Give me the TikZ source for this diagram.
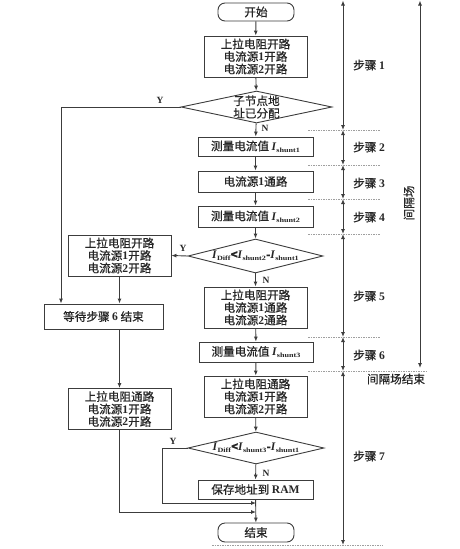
\documentclass[tikz,border=0pt]{standalone}
\usepackage{fontspec}
\setmainfont{Liberation Serif}
\newfontfamily\cjk[FakeBold=0.6]{Noto Sans CJK SC}
\usetikzlibrary{arrows.meta,shapes.geometric}
\definecolor{lc}{HTML}{3C3C3C}
\definecolor{tc}{HTML}{262626}
\newcommand\dg[1]{{\rmfamily\bfseries #1}}
\newcommand\Isub[1]{{\rmfamily\textbf{\textit{I}}\raisebox{-2pt}{\scalebox{1.25}[1]{\fontsize{6.5}{6.5}\selectfont\bfseries #1}}}}
\tikzset{
  box/.style={draw=lc, line width=0.9pt, fill=white, inner sep=0pt, align=center,
    font=\cjk\fontsize{11.6}{12.5}\selectfont, text=tc},
  dia/.style={diamond, draw=lc, line width=0.9pt, inner sep=0pt},
  txt/.style={align=center, inner sep=0pt, font=\cjk\fontsize{11.6}{12.5}\selectfont, text=tc},
  yn/.style={inner sep=0pt, font=\rmfamily\bfseries\fontsize{9.5}{9.5}\selectfont, text=tc},
  stlbl/.style={inner sep=0pt, font=\cjk\fontsize{11.6}{12}\selectfont, text=tc},
  arr/.style={draw=lc, line width=0.9pt, -{Latex[length=5pt,width=4pt]}},
  darr/.style={draw=lc, line width=0.9pt, {Latex[length=5pt,width=4pt]}-{Latex[length=5pt,width=4pt]}},
  dotline/.style={draw=gray!75, line width=0.5pt, dash pattern=on 1.5pt off 1pt}
}
\begin{document}
\begin{tikzpicture}[x=1pt,y=-1pt]
\useasboundingbox (0,0) rectangle (460,549);
% main column
\node[box, minimum width=76pt, minimum height=18pt, rounded corners=7pt] (start) at (256,12) {开始};
\node[box, minimum width=103pt, minimum height=41pt] (b1) at (255.5,56.5) {上拉电阻开路\\电流源\dg{1}开路\\电流源\dg{2}开路};
\node[dia, minimum width=151pt, minimum height=32pt] (d1) at (256.5,107) {};
\node[txt] (d1t) at (d1) {子节点地\\址已分配};
\node[box, minimum width=115pt, minimum height=19pt] (m1) at (255.5,146.5) {测量电流值 \Isub{shunt1}};
\node[box, minimum width=115pt, minimum height=21pt] (c1) at (255.5,181.5) {电流源\dg{1}通路};
\node[box, minimum width=115pt, minimum height=21pt] (m2) at (255.5,216.5) {测量电流值 \Isub{shunt2}};
\node[dia, minimum width=135pt, minimum height=34pt] (d2) at (255.5,256) {};
\node[txt] (d2t) at (d2) {\Isub{Diff}\textbf{<}\Isub{shunt2}\textbf{-}\Isub{shunt1}};
\node[box, minimum width=103pt, minimum height=41pt] (b5) at (255.5,307.5) {上拉电阻开路\\电流源\dg{1}通路\\电流源\dg{2}通路};
\node[box, minimum width=114pt, minimum height=20pt] (m3) at (256,352) {测量电流值 \Isub{shunt3}};
\node[box, minimum width=103pt, minimum height=41pt] (b7) at (255.5,396.5) {上拉电阻通路\\电流源\dg{1}开路\\电流源\dg{2}开路};
\node[dia, minimum width=136pt, minimum height=32pt] (d3) at (256,448) {};
\node[txt] (d3t) at (d3) {\Isub{Diff}\textbf{<}\Isub{shunt3}\textbf{-}\Isub{shunt1}};
\node[box, minimum width=115pt, minimum height=19pt] (ram) at (255.5,489.5) {保存地址到 \dg{RAM}};
\node[box, minimum width=76pt, minimum height=19pt, rounded corners=7pt] (end) at (256,532.5) {结束};
% left column
\node[box, minimum width=103pt, minimum height=41pt] (L1) at (119.5,255.5) {上拉电阻开路\\电流源\dg{1}开路\\电流源\dg{2}开路};
\node[box, minimum width=119pt, minimum height=25pt] (W) at (103.5,316.5) {等待步骤 \dg{6} 结束};
\node[box, minimum width=103pt, minimum height=41pt] (L3) at (119.5,409) {上拉电阻通路\\电流源\dg{1}开路\\电流源\dg{2}开路};
% connectors
\coordinate (y1) at (61,107);
\coordinate (y3) at (162,448);
\coordinate (j1) at (256,503);
\coordinate (j2) at (256,512);
\draw[arr] (start) -- (b1);
\draw[arr] (b1) -- (d1);
\draw[arr] (d1) -- (m1);
\draw[arr] (m1) -- (c1);
\draw[arr] (c1) -- (m2);
\draw[arr] (m2) -- (d2);
\draw[arr] (d2) -- (b5);
\draw[arr] (b5) -- (m3);
\draw[arr] (m3) -- (b7);
\draw[arr] (b7) -- (d3);
\draw[arr] (d3) -- (ram);
\draw[arr] (ram) -- (end);
\draw[arr] (d1.west) -- (y1) -- (y1 |- W.north);
\draw[arr] (d2.west) -- (L1.east);
\draw[arr] (L1.south) -- (L1.south |- W.north);
\draw[arr] (L3.north |- W.south) -- (L3.north);
\draw[arr] (d3.west) -- (y3) |- (j1);
\draw[arr] (L3.south) |- (j2);
% Y / N labels
\node[yn] (ly1) at (160,100) {Y};
\node[yn] (ln1) at (265,128.5) {N};
\node[yn] (ly2) at (183,248) {Y};
\node[yn] (ln2) at (266,280) {N};
\node[yn] (ly3) at (173,441) {Y};
\node[yn] (ln3) at (266,473) {N};
% step ruler
\coordinate (s0) at (343,0.5);
\coordinate (s1) at (343,130);
\coordinate (s2) at (343,165);
\coordinate (s3) at (343,199);
\coordinate (s4) at (343,234);
\coordinate (s5) at (343,337);
\coordinate (s6) at (343,371);
\coordinate (s7) at (343,545);
\draw[darr] (s0) -- (s1);
\draw[darr] (s1) -- (s2);
\draw[darr] (s2) -- (s3);
\draw[darr] (s3) -- (s4);
\draw[darr] (s4) -- (s5);
\draw[darr] (s5) -- (s6);
\draw[darr] (s6) -- (s7);
\coordinate (g0) at (420,0.5);
\coordinate (g1) at (420,368);
\draw[darr] (g0) -- (g1);
\foreach \yy in {130,165,199,234,337} \draw[dotline] (308,\yy) -- (380,\yy);
\draw[dotline] (308,371) -- (427,371);
\draw[dotline] (212,545) -- (383,545);
\node[stlbl] (st1) at (369,65) {步骤 \dg{1}};
\node[stlbl] (st2) at (369,147) {步骤 \dg{2}};
\node[stlbl] (st3) at (369,183) {步骤 \dg{3}};
\node[stlbl] (st4) at (369,217) {步骤 \dg{4}};
\node[stlbl] (st5) at (369,296) {步骤 \dg{5}};
\node[stlbl] (st6) at (369,355) {步骤 \dg{6}};
\node[stlbl] (st7) at (369,456) {步骤 \dg{7}};
\node[stlbl, rotate=90] (gap) at (409,203) {间隔场};
\node[stlbl] (gapend) at (396,379) {间隔场结束};
\end{tikzpicture}
\end{document}
